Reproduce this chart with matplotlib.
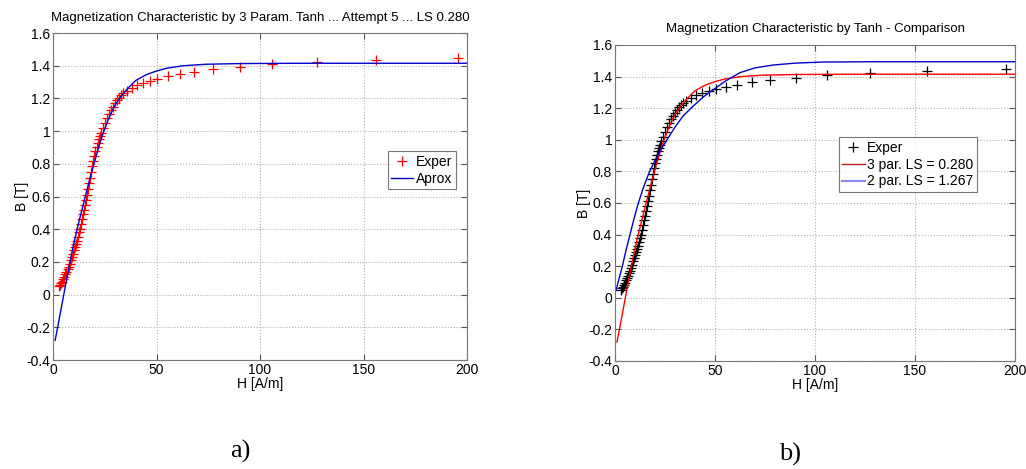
import matplotlib.pyplot as plt
from matplotlib.lines import Line2D

plt.rcParams['font.family'] = ['Liberation Sans', 'DejaVu Sans']

# measured points (H [A/m], B [T])
h_exp = [3.0, 3.5, 4.0, 4.5, 5.0, 5.5, 6.0, 6.5, 7.0, 7.5, 8.0, 8.5, 9.0, 9.5,
         10.0, 10.5, 11.0, 11.5, 12.0, 12.5, 13.0, 13.5, 14.0, 14.5, 15.0, 15.5,
         16.0, 16.5, 17.0, 17.5, 18.0, 18.5, 19.0, 19.5, 20.0, 20.5, 21.0, 21.5,
         22.0, 22.5, 23.0, 24.0, 25.0, 26.0, 27.0, 28.0, 29.0, 30.0, 31.0, 32.0,
         33.0, 34.0, 35.5, 38.0, 40.7, 43.6, 46.9, 50.4, 55.4, 61.2, 68.3, 77.4,
         90.3, 105.9, 127.7, 155.9, 195.5]
b_exp = [0.05, 0.06, 0.07, 0.08, 0.095, 0.11, 0.125, 0.14, 0.155, 0.17, 0.19,
         0.21, 0.23, 0.25, 0.27, 0.29, 0.31, 0.33, 0.355, 0.38, 0.40, 0.43, 0.46,
         0.49, 0.52, 0.55, 0.58, 0.61, 0.645, 0.68, 0.715, 0.75, 0.785, 0.82,
         0.85, 0.88, 0.905, 0.93, 0.95, 0.97, 0.99, 1.02, 1.05, 1.08, 1.105,
         1.13, 1.15, 1.17, 1.19, 1.205, 1.22, 1.235, 1.248, 1.262, 1.282, 1.296,
         1.308, 1.32, 1.337, 1.349, 1.363, 1.378, 1.394, 1.408, 1.42, 1.435, 1.447]

# 3 parameter tanh approximation
h_3par = [1, 2, 3, 4, 5, 6, 7, 8, 9, 10, 12, 14, 16, 18, 20, 22, 24, 26, 28,
          30, 33, 36, 40, 45, 50, 55, 63, 74, 90, 120, 200]
b_3par = [-0.28, -0.215, -0.148, -0.08, -0.012, 0.055, 0.122, 0.188, 0.25,
          0.31, 0.42, 0.52, 0.62, 0.72, 0.81, 0.90, 0.98, 1.05, 1.11, 1.16,
          1.215, 1.26, 1.31, 1.345, 1.368, 1.385, 1.400, 1.409, 1.413, 1.415, 1.415]

# 2 parameter tanh approximation
h_2par = [0.5, 2, 3.7, 5.5, 7.5, 9.5, 11.7, 14, 17, 20, 23, 26, 30, 34, 38, 44,
          49, 55, 62.5, 70, 79, 90, 104, 130, 200]
b_2par = [0.045, 0.12, 0.2, 0.3, 0.4, 0.5, 0.6, 0.69, 0.79, 0.87, 0.94, 1.00,
          1.08, 1.15, 1.20, 1.27, 1.315, 1.37, 1.425, 1.455, 1.473, 1.485,
          1.492, 1.494, 1.494]

x_ticks = [0, 50, 100, 150, 200]
y_ticks = [-0.4, -0.2, 0, 0.2, 0.4, 0.6, 0.8, 1, 1.2, 1.4, 1.6]
y_labels = ['-0.4', '-0.2', '0', '0.2', '0.4', '0.6', '0.8', '1', '1.2', '1.4', '1.6']


def style_axes(ax, title):
    ax.set_xlim(0, 200)
    ax.set_ylim(-0.4, 1.6)
    ax.set_xticks(x_ticks)
    ax.set_yticks(y_ticks)
    ax.set_yticklabels(y_labels)
    ax.tick_params(direction='in', top=True, right=True, labelsize=10,
                   length=4, color='#555555', pad=2)
    for s in ax.spines.values():
        s.set_color('#777777')
        s.set_linewidth(0.8)
    ax.grid(True, linestyle=':', color='#b0b0b0', linewidth=0.8)
    ax.set_xlabel('H [A/m]', fontsize=10, labelpad=0)
    ax.set_ylabel('B [T]', fontsize=10, labelpad=-2)
    ax.set_title(title, fontsize=9.5, pad=9)


fig = plt.figure(figsize=(10.26, 4.69), dpi=100)
ax1 = fig.add_axes([0.0517, 0.2324, 0.4035, 0.6972])
ax2 = fig.add_axes([0.5994, 0.2303, 0.3899, 0.6738])

ax1.plot(h_exp, b_exp, '+', color='red', ms=7, mew=0.9, label='Exper')
ax1.plot(h_3par, b_3par, '-', color='#0000cc', lw=1.0, label='Aprox')
style_axes(ax1, 'Magnetization Characteristic by 3 Param. Tanh ... Attempt 5 ... LS 0.280')
leg1 = ax1.legend(loc='lower right', bbox_to_anchor=(0.973, 0.523), fontsize=10,
                  fancybox=False, edgecolor='#555555', handlelength=1.6,
                  handletextpad=0.2, borderpad=0.25, labelspacing=0.2,
                  borderaxespad=0)
leg1.get_frame().set_linewidth(0.8)

ax2.plot(h_exp, b_exp, '+', color='black', ms=7, mew=0.9)
ax2.plot(h_3par, b_3par, '-', color='red', lw=1.0)
ax2.plot(h_2par, b_2par, '-', color='#0000cc', lw=1.0)
style_axes(ax2, 'Magnetization Characteristic by Tanh - Comparison')
ax2.title.set_position((0.5, 1.0))
handles = [Line2D([], [], ls='none', marker='+', color='black', ms=7, mew=0.9),
           Line2D([], [], color='#b02020', lw=1.0),
           Line2D([], [], color='#8888ee', lw=1.5)]
leg2 = ax2.legend(handles, ['Exper', '3 par. LS = 0.280', '2 par. LS = 1.267'],
                  loc='lower right', bbox_to_anchor=(0.905, 0.535), fontsize=10,
                  fancybox=False, edgecolor='#555555', handlelength=1.6,
                  handletextpad=0.2, borderpad=0.25, labelspacing=0.2,
                  borderaxespad=0)
leg2.get_frame().set_linewidth(0.8)

fig.text(0.234, 0.037, 'a)', fontsize=19, family='Liberation Serif',
         ha='center', va='center')
fig.text(0.770, 0.031, 'b)', fontsize=19, family='Liberation Serif',
         ha='center', va='center')

fig.savefig('out.png', dpi=100)
